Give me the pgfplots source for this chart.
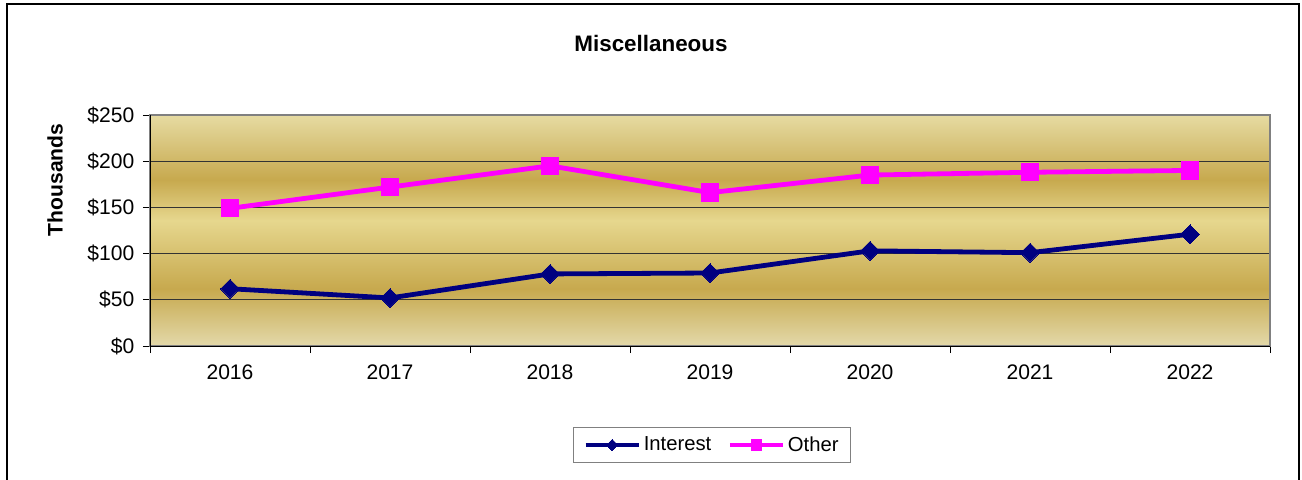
\documentclass[border=0pt]{standalone}
\usepackage{pgfplots}
\pgfplotsset{compat=1.18}
\usepackage{fontspec}
\setmainfont{Liberation Sans}
\definecolor{navyc}{HTML}{000080}
\definecolor{magc}{HTML}{FF00FF}
\definecolor{goldL}{HTML}{E6D78E}
\definecolor{goldT}{HTML}{E6DBA2}
\definecolor{goldD}{HTML}{C7A94E}
\definecolor{goldB}{HTML}{E3D9AA}
\definecolor{frameg}{HTML}{808080}
\pgfdeclareverticalshading{goldshade}{100bp}{color(0bp)=(goldB); color(25bp)=(goldB); color(37.4bp)=(goldD); color(52.2bp)=(goldL); color(61bp)=(goldD); color(75bp)=(goldT); color(100bp)=(goldT)}
\pgfplotstableread{
x y
0 62
1 52
2 78
3 79
4 103
5 101
6 121
}\interest
\pgfplotstableread{
x y
0 149
1 172
2 195
3 166
4 185
5 188
6 190
}\other
\begin{document}
\begin{tikzpicture}
\useasboundingbox (0,0) rectangle (976.5pt,359.25pt);
\draw[line width=1.5pt] (5.25pt,-5pt) -- (5.25pt,356.25pt) -- (974.25pt,356.25pt) -- (974.25pt,-5pt);
\node[font=\fontsize{16.8}{20}\selectfont\bfseries] at (488.25pt,326.5pt) {Miscellaneous};
\node[font=\fontsize{15.8}{19}\selectfont\bfseries,rotate=90] at (41.25pt,224.25pt) {Thousands};
\begin{axis}[
  at={(112.5pt,99.75pt)}, anchor=south west,
  width=840pt, height=173.25pt, scale only axis,
  axis background/.style={shading=goldshade},
  xmin=-0.5, xmax=6.5, ymin=0, ymax=250,
  xtick={0,...,6}, xticklabels={2016,2017,2018,2019,2020,2021,2022},
  minor xtick={-0.5,0.5,...,6.5},
  major x tick style={draw=none},
  ytick={0,50,...,250}, yticklabels={\$0,\$50,\$100,\$150,\$200,\$250},
  tick align=outside, tick pos=left,
  major tick length=5.25pt, minor tick length=5.25pt,
  tick style={black, line width=0.75pt},
  ymajorgrids, grid style={black!80, line width=0.75pt},
  axis line style={draw=frameg, line width=1.5pt},
  ticklabel style={font=\fontsize{15.8}{19}\selectfont},
  yticklabel style={xshift=-3pt},
  xticklabel style={yshift=-5pt},
  legend style={at={(0.502,-0.4286)}, anchor=center, draw=frameg, line width=0.75pt,
    legend columns=2, font=\fontsize{15.2}{18}\selectfont,
    /tikz/every even column/.append style={column sep=10pt},
    inner xsep=7pt, inner ysep=5pt},
  legend cell align=left,
  legend image code/.code={\draw[mark repeat=2,mark phase=2,#1,every mark/.append style={scale=0.6}] plot coordinates {(0cm,0cm) (0.7cm,0cm) (1.4cm,0cm)};},
]
\addplot[navyc, line width=3.6pt, mark=square*, mark size=5pt, mark options={rotate=45, line width=0pt, fill=navyc}] table[x=x,y=y] {\interest};
\addlegendentry{Interest}
\addplot[magc, line width=3.6pt, mark=square*, mark size=6.5pt, mark options={line width=0pt, fill=magc}] table[x=x,y=y] {\other};
\addlegendentry{Other}
\draw[black, line width=0.75pt] (rel axis cs:0,0) -- (rel axis cs:0,1);
\draw[black, line width=0.75pt] (rel axis cs:0,0) -- (rel axis cs:1,0);
\end{axis}
\end{tikzpicture}
\end{document}
